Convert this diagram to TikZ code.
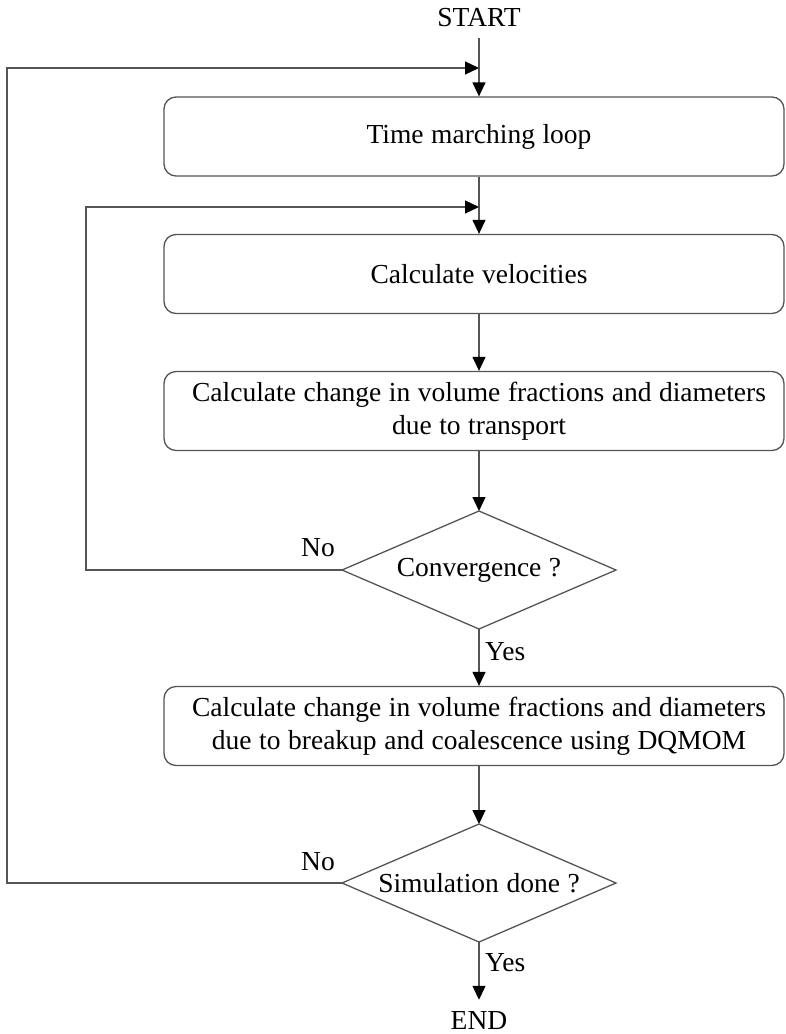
\documentclass[tikz,border=0pt]{standalone}
\usepackage{fontspec}
\setmainfont{Liberation Serif}[WordSpace=1.1]
\usetikzlibrary{arrows.meta}
\definecolor{linec}{RGB}{85,85,85}
\begin{document}
\begin{tikzpicture}[x=1pt,y=-1pt,
  every node/.style={font=\fontsize{27.5}{33}\selectfont, text=black},
  line/.style={draw=linec, line width=1.3pt},
  arr/.style={line, arrows={-{Triangle[length=14pt,width=13pt,color=black]}}},
  procbox/.style={draw=linec, line width=1.3pt, rounded corners=12pt, minimum width=620pt, minimum height=79pt, inner sep=0pt},
  boxtext/.style={inner sep=0pt, align=center},
  lbl/.style={inner sep=0pt}
]
\useasboundingbox (0,0) rectangle (786,1034);
\coordinate (m1) at (479,68);
\coordinate (m2) at (479,207);
\coordinate (l1) at (7,883);
\coordinate (l2) at (86,570);

\node[lbl] (start) at (479,18) {START};
\node[procbox] (box1) at (474,136.5) {};
\node[boxtext] (t1) at (box1.center -| m1) {Time marching loop};
\node[procbox] (box2) at (474,274) {};
\node[boxtext] (t2) at (box2.center -| m1) {Calculate velocities};
\node[procbox] (box3) at (474,411) {};
\node[boxtext] (t3) at (box3.center -| m1) {Calculate change in volume fractions and diameters\\due to transport};
\node[procbox] (box4) at (474,726) {};
\node[boxtext] (t4) at (box4.center -| m1) {Calculate change in volume fractions and diameters\\due to breakup and coalescence using DQMOM};
\node[lbl] (end) at (479,1021) {END};

% decision 1
\coordinate (d1n) at (479,511);
\coordinate (d1s) at (479,629);
\coordinate (d1w) at (342,570);
\coordinate (d1e) at (616,570);
\draw[line] (d1n) -- (d1e) -- (d1s) -- (d1w) -- cycle;
\node[lbl] (d1) at (479,570) {Convergence ?};

% decision 2
\coordinate (d2n) at (479,824);
\coordinate (d2s) at (479,942);
\coordinate (d2w) at (342,883);
\coordinate (d2e) at (616,883);
\draw[line] (d2n) -- (d2e) -- (d2s) -- (d2w) -- cycle;
\node[lbl] (d2) at (479,883) {Simulation done ?};

\draw[arr] ([yshift=-11pt]start.south) -- (start.south |- box1.north);
\draw[arr] (m1 |- box1.south) -- (m1 |- box2.north);
\draw[arr] (m1 |- box2.south) -- (m1 |- box3.north);
\draw[arr] (m1 |- box3.south) -- (d1n);
\draw[arr] (d1s) -- (m1 |- box4.north);
\draw[arr] (m1 |- box4.south) -- (d2n);
\draw[arr] (d2s) -- ([yshift=12pt]end.north);

\draw[arr] (d2w) -- (l1) -- (l1 |- m1) -- (m1);
\draw[arr] (d1w) -- (l2) -- (l2 |- m2) -- (m2);

\node[lbl, anchor=west] (yes1) at (485,652) {Yes};
\node[lbl, anchor=west] (yes2) at (485,963) {Yes};
\node[lbl] (no1) at (318,548) {No};
\node[lbl] (no2) at (318,862) {No};
\end{tikzpicture}
\end{document}
